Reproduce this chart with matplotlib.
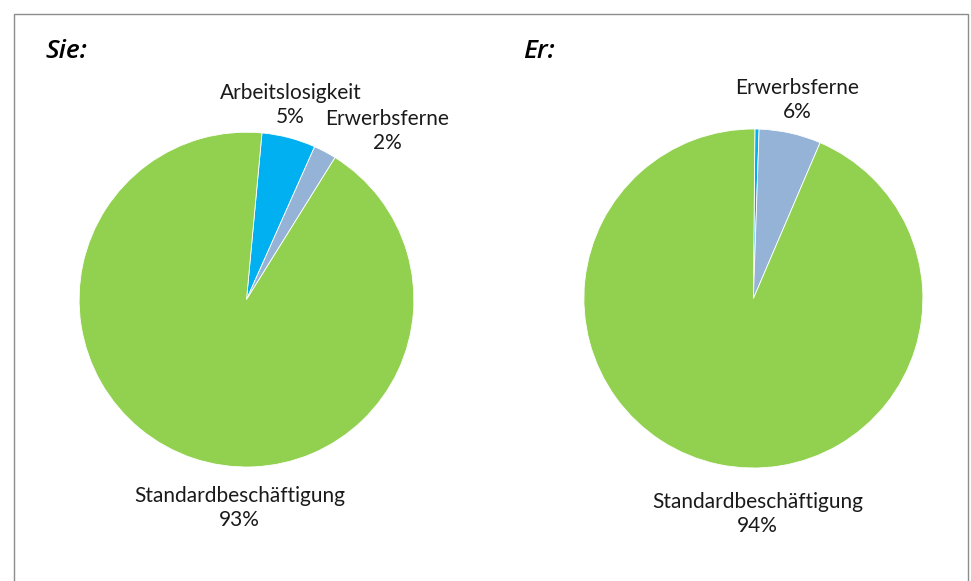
import matplotlib
matplotlib.use("Agg")
import matplotlib.pyplot as plt
from matplotlib.patches import Rectangle
from matplotlib.transforms import offset_copy

# Shares of employment status (percent)
categories = ["Arbeitslosigkeit", "Erwerbsferne", "Standardbeschäftigung"]
sie_values = [5.2, 2.2, 92.6]
er_values = [0.4, 5.9, 93.7]
titles = ["Sie:", "Er:"]
colors = ["#00B0F0", "#95B3D7", "#92D050"]

# Which labels are shown on each pie
sie_show = [True, True, True]
er_show = [False, True, True]

W, H = 971, 581
fig = plt.figure(figsize=(W / 100, H / 100), dpi=100)
plt.rcParams["font.family"] = ["Lato", "DejaVu Sans"]

# Outer chart frame
fig.patches.append(Rectangle((13.5 / W, -0.1), (967.5 - 13.5) / W, 1.1 - 13.5 / H,
                             transform=fig.transFigure, fill=False,
                             edgecolor="#8c8c8c", linewidth=1.0))


def pie_axes(cx, cy, r):
    # cx, cy, r in pixels (y measured from top)
    return fig.add_axes([(cx - r) / W, (H - cy - r) / H, 2 * r / W, 2 * r / H])


# Layout: label block centres relative to pie radius
sie_label_pos = [(0.263, 1.162), (0.842, 1.007), (-0.042, -1.242)]
er_label_pos = [(0.0, 0.0), (0.260, 1.171), (0.024, -1.271)]

specs = [
    (246.5, 299.6, 167.4, sie_values, sie_show, sie_label_pos, 84.7, (45, 52)),
    (753.4, 298.5, 169.5, er_values, er_show, er_label_pos, 89.5, (523, 52)),
]

label_style = dict(ha="center", va="baseline", fontsize=15, color="#1a1a1a",
                   clip_on=False)

for (cx, cy, r, vals, show, lpos, start, tpos), title in zip(specs, titles):
    ax = pie_axes(cx, cy, r)
    ax.pie(vals, colors=colors, startangle=start, counterclock=False,
           radius=1.0, wedgeprops=dict(edgecolor="white", linewidth=0.6))
    ax.set_xlim(-1, 1)
    ax.set_ylim(-1, 1)
    ax.set_aspect("auto")
    ax.axis("off")
    name_tr = offset_copy(ax.transData, fig=fig, x=0, y=6, units="dots")
    pct_tr = offset_copy(ax.transData, fig=fig, x=0, y=-18, units="dots")
    for name, v, s, (lx, ly) in zip(categories, vals, show, lpos):
        if not s:
            continue
        ax.text(lx, ly, name, transform=name_tr, **label_style)
        ax.text(lx, ly, f"{round(v):.0f}%", transform=pct_tr, **label_style)
    fig.text(tpos[0] / W, 1 - tpos[1] / H, title, fontsize=19,
             family=["Open Sans", "DejaVu Sans"], fontweight="semibold",
             fontstyle="italic", color="#000000", ha="left", va="center")

fig.savefig("out.png", dpi=100)
